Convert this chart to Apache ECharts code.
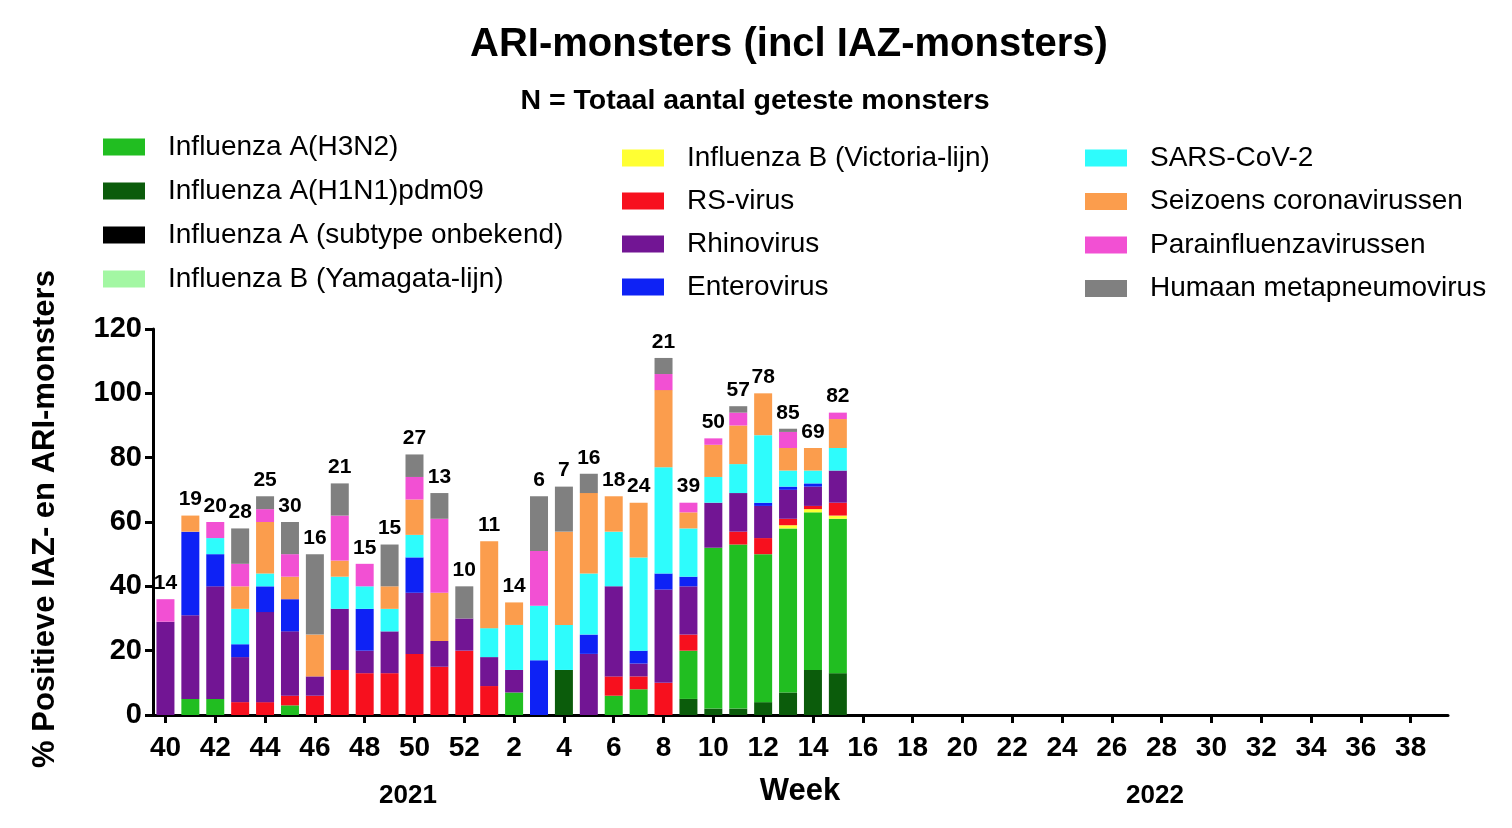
<!DOCTYPE html>
<html>
<head>
<meta charset="utf-8">
<script src="https://cdn.jsdelivr.net/npm/echarts@6/dist/echarts.min.js"></script>
<style>
html,body{margin:0;padding:0;background:#fff;}
#chart{width:1512px;height:828px;}
</style>
</head>
<body>
<div id="chart"></div>
<script>
// Week categories (2021 weeks 40-52, then 2022 weeks 1-39)
var weeks = ['40','41','42','43','44','45','46','47','48','49','50','51','52',
  '1','2','3','4','5','6','7','8','9','10','11','12','13','14','15','16','17','18','19','20',
  '21','22','23','24','25','26','27','28','29','30','31','32','33','34','35','36','37','38','39'];

// N = total tested samples per week
var nTested = [14,19,20,28,25,30,16,21,15,15,27,13,10,11,14,6,7,16,18,24,21,39,50,57,78,85,69,82];

// % positive per pathogen (weeks 40..52, 1..15)
var h1n1     = [0,0,0,0,0,0,0,0,0,0,0,0,0, 0,0,0,14,0,0,0,0, 5,2,2,4,7,14,13];
var h3n2     = [0,5,5,0,0,3,0,0,0,0,0,0,0, 0,7,0,0,0,6,8,0, 15,50,51,46,51,49,48];
var infAUnk  = [0,0,0,0,0,0,0,0,0,0,0,0,0, 0,0,0,0,0,0,0,0, 0,0,0,0,0,0,0];
var yamagata = [0,0,0,0,0,0,0,0,0,0,0,0,0, 0,0,0,0,0,0,0,0, 0,0,0,0,0,0,0];
var victoria = [0,0,0,0,0,0,0,0,0,0,0,0,0, 0,0,0,0,0,0,0,0, 0,0,0,0,1,1,1];
var rsv      = [0,0,0,4,4,3,6,14,13,13,19,15,20, 9,0,0,0,0,6,4,10, 5,0,4,5,2,1,4];
var rhino    = [29,26,35,14,28,20,6,19,7,13,19,8,10, 9,7,0,0,19,28,4,29, 15,14,12,10,9,6,10];
var entero   = [0,26,10,4,8,10,0,0,13,0,11,0,0, 0,0,17,0,6,0,4,5, 3,0,0,1,1,1,0];
var sars     = [0,0,5,11,4,0,0,10,7,7,7,0,0, 9,14,17,14,19,17,29,33, 15,8,9,21,5,4,7];
var seizoens = [0,5,0,7,16,7,13,5,0,7,11,15,0, 27,7,0,29,25,11,17,24, 5,10,12,13,7,7,9];
var para     = [7,0,5,7,4,7,0,14,7,0,7,23,0, 0,0,17,0,0,0,0,5, 3,2,4,0,5,0,2];
var hmpv     = [0,0,0,11,4,10,25,10,0,13,7,8,10, 0,0,17,14,6,0,0,5, 0,0,2,0,1,0,0];

var FONT = '"Liberation Sans", Arial, sans-serif';

// stacking order bottom -> top
var seriesDefs = [
  {name:'Influenza A(H1N1)pdm09', data:h1n1, color:'#0B5C0B'},
  {name:'Influenza A(H3N2)', data:h3n2, color:'#21BE21'},
  {name:'Influenza A (subtype onbekend)', data:infAUnk, color:'#000000'},
  {name:'Influenza B (Yamagata-lijn)', data:yamagata, color:'#A3F7A3'},
  {name:'Influenza B (Victoria-lijn)', data:victoria, color:'#FFFF33'},
  {name:'RS-virus', data:rsv, color:'#F7101E'},
  {name:'Rhinovirus', data:rhino, color:'#721594'},
  {name:'Enterovirus', data:entero, color:'#0E22F5'},
  {name:'SARS-CoV-2', data:sars, color:'#2EFCFC'},
  {name:'Seizoens coronavirussen', data:seizoens, color:'#FB9D4D'},
  {name:'Parainfluenzavirussen', data:para, color:'#F250D3'},
  {name:'Humaan metapneumovirus', data:hmpv, color:'#808080'}
];

var totals = nTested.map(function(_, i){
  var s = 0;
  seriesDefs.forEach(function(d){ s += d.data[i] || 0; });
  return s;
});

var series = seriesDefs.map(function(d){
  return {
    name: d.name, type: 'bar', stack: 'all', data: d.data,
    barWidth: 18,
    itemStyle: {color: d.color},
    emphasis: {disabled: true}
  };
});
series.push({
  name: 'N', type: 'scatter', data: totals, symbolSize: 1,
  itemStyle: {color: '#ffffff', opacity: 0},
  z: 10,
  emphasis: {disabled: true},
  label: {
    show: true, position: 'top', distance: 5, opacity: 1,
    formatter: function(p){ return String(nTested[p.dataIndex]); },
    fontFamily: FONT, fontWeight: 'bold', fontSize: 21, color: '#000000',
    textBorderWidth: 0
  }
});

function legendCol(left, top, gap, names){
  return {
    orient: 'vertical', left: left, top: top, itemGap: gap, padding: 0,
    itemWidth: 42, itemHeight: 17, icon: 'rect', selectedMode: false,
    data: names,
    textStyle: {fontFamily: FONT, fontSize: 28, color: '#000', lineHeight: 30, padding: [0,0,0,18]}
  };
}

var option = {
  animation: false,
  backgroundColor: '#ffffff',
  grid: {left: 153, right: 64, top: 329, bottom: 113, containLabel: false},
  legend: [
    legendCol(103, 132, 14, ['Influenza A(H3N2)','Influenza A(H1N1)pdm09','Influenza A (subtype onbekend)','Influenza B (Yamagata-lijn)']),
    legendCol(622, 143, 13, ['Influenza B (Victoria-lijn)','RS-virus','Rhinovirus','Enterovirus']),
    legendCol(1085, 143, 13.5, ['SARS-CoV-2','Seizoens coronavirussen','Parainfluenzavirussen','Humaan metapneumovirus'])
  ],
  xAxis: {
    type: 'category', data: weeks,
    axisLine: {show: true, lineStyle: {color: '#000', width: 3}},
    axisTick: {show: true, interval: 1, alignWithLabel: true, length: 8, lineStyle: {color: '#000', width: 3}},
    axisLabel: {interval: 1, fontFamily: FONT, fontWeight: 'bold', fontSize: 28, color: '#000', margin: 19},
    splitLine: {show: false}
  },
  yAxis: {
    type: 'value', min: 0, max: 120, interval: 20,
    axisLine: {show: true, lineStyle: {color: '#000', width: 3}},
    axisTick: {show: true, length: 8, lineStyle: {color: '#000', width: 3}},
    axisLabel: {fontFamily: FONT, fontWeight: 'bold', fontSize: 29, color: '#000', margin: 11},
    splitLine: {show: false}
  },
  graphic: [
    {type: 'text', x: 789, y: 45, style: {text: 'ARI-monsters (incl IAZ-monsters)', fontFamily: FONT, fontWeight: 'bold', fontSize: 40, fill: '#000', textAlign: 'center', textVerticalAlign: 'middle', align: 'center', verticalAlign: 'middle'}},
    {type: 'text', x: 755, y: 101, style: {text: 'N = Totaal aantal geteste monsters', fontFamily: FONT, fontWeight: 'bold', fontSize: 28.5, fill: '#000', textAlign: 'center', textVerticalAlign: 'middle', align: 'center', verticalAlign: 'middle'}},
    {type: 'text', x: 45, y: 519, rotation: Math.PI / 2, style: {text: '% Positieve IAZ- en ARI-monsters', fontFamily: FONT, fontWeight: 'bold', fontSize: 31, fill: '#000', textAlign: 'center', textVerticalAlign: 'middle', align: 'center', verticalAlign: 'middle'}},
    {type: 'text', x: 800, y: 791, style: {text: 'Week', fontFamily: FONT, fontWeight: 'bold', fontSize: 31, fill: '#000', textAlign: 'center', textVerticalAlign: 'middle', align: 'center', verticalAlign: 'middle'}},
    {type: 'text', x: 408, y: 796, style: {text: '2021', fontFamily: FONT, fontWeight: 'bold', fontSize: 26, fill: '#000', textAlign: 'center', textVerticalAlign: 'middle', align: 'center', verticalAlign: 'middle'}},
    {type: 'text', x: 1155, y: 796, style: {text: '2022', fontFamily: FONT, fontWeight: 'bold', fontSize: 26, fill: '#000', textAlign: 'center', textVerticalAlign: 'middle', align: 'center', verticalAlign: 'middle'}}
  ],
  series: series
};

var chart = echarts.init(document.getElementById('chart'), null, {renderer: 'canvas'});
chart.setOption(option);
</script>
</body>
</html>
